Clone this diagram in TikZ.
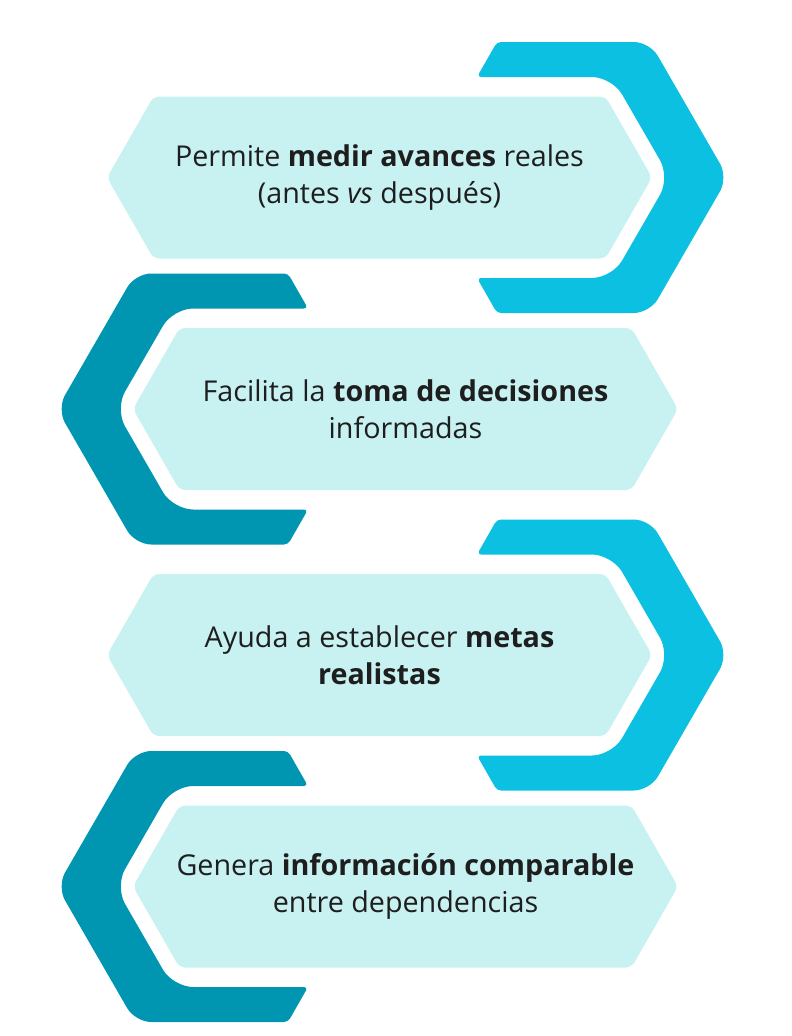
\documentclass[tikz,border=0pt]{standalone}
\usepackage{fontspec}
\setmainfont{Open Sans}
\usepackage{xcolor}
\usepackage{tikz}
\definecolor{panel}{HTML}{C8F1F1}
\definecolor{cyanbar}{HTML}{0BC0E0}
\definecolor{tealbar}{HTML}{0096B1}
\definecolor{ink}{HTML}{1E1E1E}
\tikzset{
  panelhex/.style={fill=panel, rounded corners=6pt},
  bar/.style={rounded corners=4pt},
  txt/.style={text=ink, align=center, font=\fontsize{28.7}{37.5}\selectfont}
}

\begin{document}
\begin{tikzpicture}[x=1pt, y=-1pt]
  \useasboundingbox (0,0) rectangle (792,1036);

  \coordinate (c1) at (379.5,177.5);
  \coordinate (c2) at (405.5,409);
  \coordinate (c3) at (379.5,655);
  \coordinate (c4) at (405.5,886.5);

  \foreach \i/\s/\col in {1/1/cyanbar, 2/-1/tealbar, 3/1/cyanbar, 4/-1/tealbar}{
    \begin{scope}[shift={(c\i)}, xscale=\s]
      \fill[bar, fill=\col] (117.5,-135.5) [rounded corners=16pt] -- (270.3,-135.5) -- (348.5,0)
        -- (270.3,135.5) [rounded corners=4pt] -- (117.5,135.5) -- (97.5,100.5)
        [rounded corners=20pt] -- (232.5,100.5) -- (290.5,0) -- (232.5,-100.5)
        [rounded corners=4pt] -- (97.5,-100.5) -- cycle;
      \fill[panelhex] (-272.5,0) -- (-226,-81) -- (226,-81) -- (272.5,0) -- (226,81) -- (-226,81) -- cycle;
    \end{scope}
  }

  \node[txt] (medir) at (c1) {Permite \textbf{medir avances} reales\\(antes \textit{vs} después)};
  \node[txt] (decide) at (c2) {Facilita la \textbf{toma de decisiones}\\informadas};
  \node[txt] (metas) at (c3) {Ayuda a establecer \textbf{metas}\\\textbf{realistas}};
  \node[txt] (compara) at (c4) {Genera \textbf{información comparable}\\entre dependencias};
\end{tikzpicture}
\end{document}
